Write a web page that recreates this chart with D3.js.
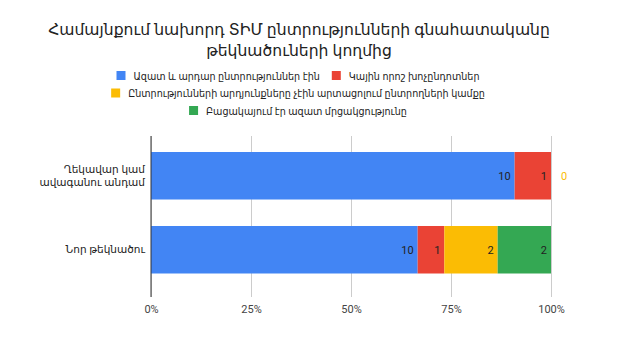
<!DOCTYPE html>
<html><head><meta charset="utf-8">
<script src="https://cdn.jsdelivr.net/npm/d3@7"></script>
<style>
html,body{margin:0;padding:0;background:#fff;}
svg{display:block;font-family:"Noto Sans","DejaVu Sans",Arial,sans-serif;}
</style></head>
<body>
<svg id="c" width="640" height="344"></svg>
<script>
const titleLines = ["Համայնքում նախորդ ՏԻՄ ընտրությունների գնահատականը", "թեկնածուների կողմից"];
const categories = ["Ղեկավար կամ\nավագանու անդամ", "Նոր թեկնածու"];
const seriesNames = ["Ազատ և արդար ընտրություններ էին", "Կային որոշ խոչընդոտներ", "Ընտրությունների արդյունքները չէին արտացոլում ընտրողների կամքը", "Բացակայում էր ազատ մրցակցությունը"];
const seriesColors = ["#4285f4", "#ea4335", "#fbbc04", "#34a853"];
const freeFair = [10, 10];
const someObstacles = [1, 1];
const notReflect = [0, 2];
const noCompetition = [0, 2];
const tickValues = [0, 0.25, 0.5, 0.75, 1];

const series = [freeFair, someObstacles, notReflect, noCompetition];
const svg = d3.select("#c");
const m = {left:151, right:551, top:136, bottom:297};

// title
svg.append("text").attr("x", 299).attr("y", 35).attr("text-anchor","middle")
  .attr("font-size", 15.6).attr("fill","#222")
  .selectAll("tspan").data(titleLines).join("tspan")
  .attr("x", 299).attr("dy",(d,i)=> i? 20.5:0).text(d=>d);

// legend
const legendRows = [[0,1],[2],[3]];
const legendY = [76, 93.5, 111];
legendRows.forEach((row,ri)=>{
  const g = svg.append("g");
  let x = 0;
  row.forEach((si,k)=>{
    const item = g.append("g").attr("transform",`translate(${x},0)`);
    item.append("rect").attr("x",0).attr("y",-5).attr("width",9).attr("height",9).attr("fill",seriesColors[si]);
    const t = item.append("text").attr("x",17).attr("y",3.5).attr("font-size",9.6).attr("fill","#222").text(seriesNames[si]);
    const w = t.node().getComputedTextLength();
    x += 17 + w + 12;
  });
  const total = x - 12;
  g.attr("transform",`translate(${(298 - total/2)},${legendY[ri]})`);
});

const x = d3.scaleLinear().domain([0,1]).range([m.left, m.right]);
const y = d3.scaleBand().domain(categories).range([129.8, 295.7]).paddingInner(0.358).paddingOuter(0.3);

// grid
const xAxis = d3.axisBottom(x).tickValues(tickValues).tickFormat(d3.format(".0%")).tickSize(-(m.bottom-m.top)).tickPadding(8);
const ga = svg.append("g").attr("transform",`translate(0,${m.bottom})`).call(xAxis);
ga.select(".domain").remove();
ga.selectAll(".tick line").attr("stroke","#cccccc").attr("stroke-width",1);
ga.selectAll(".tick text").attr("font-size",11).attr("fill","#444").attr("dy","0.75em")
  .attr("font-family","Roboto, 'Noto Sans', sans-serif");

// stacked data
const stackData = categories.map((c,i)=>{
  const vals = series.map(s=>s[i]);
  const tot = d3.sum(vals);
  let acc = 0;
  return vals.map((v,si)=>{ const r = {cat:c, si, v, x0:acc/tot, x1:(acc+v)/tot}; acc += v; return r; });
});
const flat = stackData.flat();
svg.append("g").selectAll("rect").data(flat.filter(d=>d.v>0)).join("rect")
  .attr("x",d=>x(d.x0)).attr("width",d=>x(d.x1)-x(d.x0))
  .attr("y",d=>y(d.cat)).attr("height",y.bandwidth())
  .attr("fill",d=>seriesColors[d.si]);

// value labels
svg.append("g").selectAll("text").data(flat.filter(d=>d.v>0)).join("text")
  .attr("x",d=>x(d.x1)-4).attr("y",d=>y(d.cat)+y.bandwidth()/2+4)
  .attr("text-anchor","end").attr("font-size",11).attr("fill","#222")
  .attr("font-family","Roboto, 'Noto Sans', sans-serif")
  .text(d=>d.v);
// zero label outside (first zero of first category)
const zeros = flat.filter(d=>d.v===0 && d.si===2);
svg.append("g").selectAll("text").data(zeros).join("text")
  .attr("x",x(1)+13).attr("y",d=>y(d.cat)+y.bandwidth()/2+4)
  .attr("text-anchor","middle").attr("font-size",11).attr("fill",d=>seriesColors[d.si])
  .attr("font-family","Roboto, 'Noto Sans', sans-serif")
  .text(d=>d.v);

// baseline axis
svg.append("line").attr("x1",x(0)).attr("x2",x(0)).attr("y1",m.top).attr("y2",m.bottom).attr("stroke","#333").attr("stroke-width",1);

// category labels
categories.forEach(c=>{
  const lines = c.split("\n");
  const cy = y(c)+y.bandwidth()/2;
  lines.forEach((l,i)=>{
    svg.append("text").attr("text-anchor","end").attr("font-size",10.5).attr("fill","#222")
      .attr("x",145).attr("y", cy + 3.5 + (i - (lines.length-1)/2)*13.5).text(l);
  });
});
</script>
</body></html>
